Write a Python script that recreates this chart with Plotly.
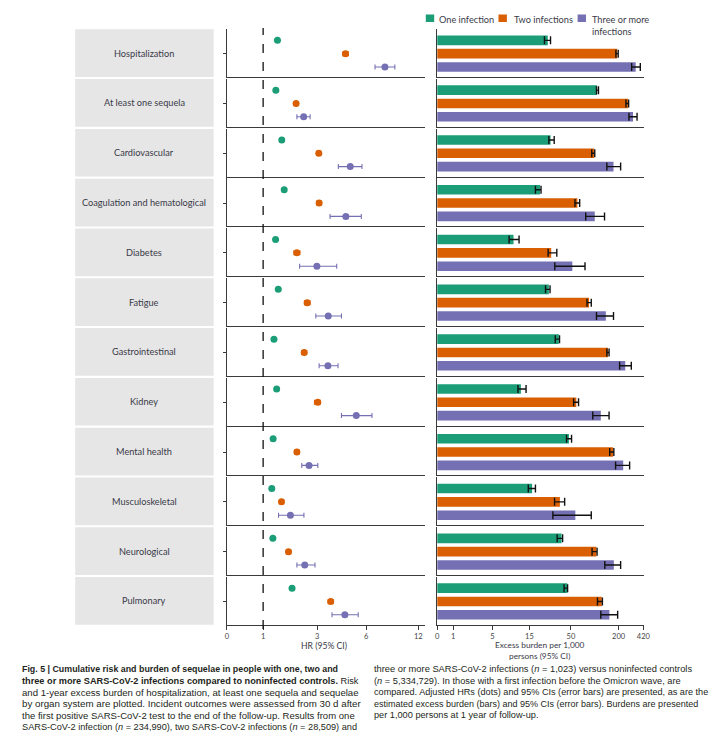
import numpy as np
import plotly.graph_objects as go

# ---------------- data ----------------
categories = ["Hospitalization", "At least one sequela", "Cardiovascular",
              "Coagulation and hematological", "Diabetes", "Fatigue",
              "Gastrointestinal", "Kidney", "Mental health", "Musculoskeletal",
              "Neurological", "Pulmonary"]
series_names = ["One infection", "Two infections", "Three or more infections"]
colors = ["#1b9e77", "#d95f02", "#7570b3"]

hr_one = [1.53, 1.47, 1.69, 1.78, 1.46, 1.56, 1.40, 1.50, 1.37, 1.32, 1.36, 2.07]
hr_one_lo = [1.49, 1.45, 1.65, 1.73, 1.42, 1.51, 1.37, 1.46, 1.34, 1.29, 1.33, 2.02]
hr_one_hi = [1.57, 1.50, 1.73, 1.83, 1.50, 1.61, 1.43, 1.54, 1.40, 1.35, 1.39, 2.12]
hr_two = [4.74, 2.22, 3.10, 3.12, 2.25, 2.63, 2.52, 3.04, 2.25, 1.68, 1.94, 3.83]
hr_two_lo = [4.58, 2.16, 2.98, 2.98, 2.14, 2.53, 2.43, 2.90, 2.17, 1.60, 1.86, 3.68]
hr_two_hi = [4.91, 2.28, 3.22, 3.27, 2.36, 2.74, 2.61, 3.18, 2.33, 1.76, 2.02, 3.99]
hr_three = [8.17, 2.50, 5.03, 4.76, 2.99, 3.68, 3.66, 5.40, 2.70, 2.01, 2.54, 4.70]
hr_three_lo = [7.03, 2.25, 4.30, 3.79, 2.35, 2.95, 3.12, 4.49, 2.43, 1.57, 2.25, 3.91]
hr_three_hi = [9.31, 2.74, 5.75, 5.71, 4.20, 4.49, 4.28, 6.68, 3.04, 2.51, 2.92, 5.52]

burden_one = [30.5, 132.3, 32.8, 24.0, 10.7, 31.4, 39.8, 12.7, 48.3, 17.3, 42.1, 46.9]
burden_one_lo = [27.7, 130.4, 31.4, 20.1, 9.5, 28.6, 36.8, 11.9, 46.3, 14.7, 38.4, 44.2]
burden_one_hi = [32.8, 136.7, 35.9, 24.8, 12.2, 32.4, 40.4, 14.1, 52.0, 20.1, 43.0, 47.2]
burden_two = [195.6, 283, 122.8, 70.3, 33.4, 107, 167, 67, 182.6, 40.7, 130.4, 147]
burden_two_lo = [191.5, 265, 115.5, 62.7, 30.8, 100.6, 163, 58.5, 172, 36.2, 116.5, 133.5]
burden_two_hi = [198.7, 289, 125, 77.5, 38.1, 114, 170, 74, 185, 44.7, 132.3, 149]
burden_three = [352, 328, 184, 125, 54.4, 159.8, 259, 144, 241, 63.9, 185, 171]
burden_three_lo = [316, 292, 163, 96.5, 36.4, 130.4, 209, 118.7, 190.5, 34.8, 156.6, 144]
burden_three_hi = [393, 364, 218, 155.7, 94.3, 184, 313, 170, 298, 114, 218, 197]

hr_tick_vals = [0, 1, 3, 6, 12]
hr_tick_text = ["0", "1", "3", "6", "12"]
burden_tick_vals = [0, 1, 5, 15, 50, 200, 420]
burden_tick_text = ["0", "1", "5", "15", "50", "200", "420"]

# ---------------- axis scale definitions (non-linear, piecewise) ----------------
HR_SCALE_POS = [0, 36, 89.8, 138.5, 190.5]
HR_RANGE = [0, 197.5]
BUR_SCALE_POS = [0, 16, 55, 91.7, 133, 180.4, 205]
BUR_RANGE = [0, 206]


def hr_t(v):
    return np.interp(np.asarray(v, dtype=float), hr_tick_vals, HR_SCALE_POS)


def bur_t(v):
    return np.interp(np.asarray(v, dtype=float), burden_tick_vals, BUR_SCALE_POS)


W, H = 727, 745


def px(x):
    return x / W


def py(y):
    return 1 - y / H


hr_sets = [(hr_one, hr_one_lo, hr_one_hi), (hr_two, hr_two_lo, hr_two_hi),
           (hr_three, hr_three_lo, hr_three_hi)]
bur_sets = [(burden_one, burden_one_lo, burden_one_hi),
            (burden_two, burden_two_lo, burden_two_hi),
            (burden_three, burden_three_lo, burden_three_hi)]

LINE_C = "#3a3a3a"
TXT_C = "#3a3a48"
FONT = "Lato"

fig = go.Figure()
layout = dict(width=W, height=H, margin=dict(l=0, r=0, t=0, b=0),
              paper_bgcolor="white", plot_bgcolor="white", showlegend=False,
              font=dict(family=FONT, size=8, color=TXT_C))
shapes = []
annotations = []

HR_DOM = [px(227.5), px(428)]
BUR_DOM = [px(440), px(649.5)]

n = len(categories)
for i, cat in enumerate(categories):
    top = 29 + 49.8 * i
    bot = top + 48
    last = i == n - 1
    a_hr = 2 * i + 1
    a_bu = 2 * i + 2
    for a, dom, rng, tv, tt in [(a_hr, HR_DOM, HR_RANGE, hr_tick_vals, hr_tick_text),
                                (a_bu, BUR_DOM, BUR_RANGE, burden_tick_vals, burden_tick_text)]:
        xname = "xaxis" if a == 1 else f"xaxis{a}"
        yname = "yaxis" if a == 1 else f"yaxis{a}"
        ref = "" if a == 1 else str(a)
        tpos = hr_t(tv) if a == a_hr else bur_t(tv)
        layout[xname] = dict(domain=dom, range=rng, anchor="y" + ref, showline=True,
                             linecolor=LINE_C, linewidth=1.3, showgrid=False, zeroline=False,
                             tickvals=list(tpos) if last else [], ticktext=tt if last else [],
                             ticks="outside" if last else "", ticklen=4, tickcolor=LINE_C,
                             showticklabels=last, tickfont=dict(size=7.5, color="#444"),
                             fixedrange=True)
        layout[yname] = dict(domain=[py(bot), py(top)], range=[-0.75, 2.85], anchor="x" + ref,
                             showline=True, linecolor=LINE_C, linewidth=1.3, showgrid=False,
                             zeroline=False, tickvals=[1] if a == a_hr else [],
                             ticks="outside" if a == a_hr else "", ticklen=3,
                             tickcolor=LINE_C, showticklabels=False, fixedrange=True)

    ref_hr = "" if a_hr == 1 else str(a_hr)
    ref_bu = str(a_bu)
    for g in range(3):
        v, lo, hi = hr_sets[g][0][i], hr_sets[g][1][i], hr_sets[g][2][i]
        fig.add_trace(go.Scatter(
            x=[float(hr_t(v))], y=[2 - g], mode="markers",
            marker=dict(size=7, color=colors[g]),
            error_x=dict(type="data", symmetric=False,
                         array=[float(hr_t(hi) - hr_t(v))],
                         arrayminus=[float(hr_t(v) - hr_t(lo))],
                         color=colors[g], thickness=1.1, width=2.5),
            xaxis="x" + ref_hr, yaxis="y" + ref_hr, hoverinfo="skip"))
        bv, blo, bhi = bur_sets[g][0][i], bur_sets[g][1][i], bur_sets[g][2][i]
        fig.add_trace(go.Bar(
            x=[float(bur_t(bv))], y=[2 - g], orientation="h", width=0.72,
            marker=dict(color=colors[g], line=dict(width=0)),
            error_x=dict(type="data", symmetric=False,
                         array=[float(bur_t(bhi) - bur_t(bv))],
                         arrayminus=[float(bur_t(bv) - bur_t(blo))],
                         color="#111111", thickness=1.4, width=4),
            xaxis="x" + ref_bu, yaxis="y" + ref_bu, hoverinfo="skip"))

    # category label box
    shapes.append(dict(type="rect", xref="paper", yref="paper",
                       x0=px(74), x1=px(214), y0=py(top + 48), y1=py(top + 0.3),
                       fillcolor="#e6e6e6", line=dict(width=0), layer="below"))
    annotations.append(dict(xref="paper", yref="paper", x=px(144), y=py(top + 24),
                            text=cat, showarrow=False, xanchor="center", yanchor="middle",
                            font=dict(family=FONT, size=9.2, color=TXT_C)))

# reference line at HR = 1
shapes.append(dict(type="line", xref="x", yref="paper",
                   x0=float(hr_t(1)), x1=float(hr_t(1)), y0=py(629), y1=py(28),
                   line=dict(color="#111111", width=1.3, dash="dash")))

# axis titles
annotations.append(dict(xref="paper", yref="paper", x=px(326), y=py(645.5),
                        text="HR (95% CI)", showarrow=False, xanchor="center", yanchor="middle",
                        font=dict(family=FONT, size=8.6, color=TXT_C)))
annotations.append(dict(xref="paper", yref="paper", x=px(544), y=py(650),
                        text="Excess burden per 1,000<br>persons (95% CI)", showarrow=False,
                        xanchor="center", yanchor="middle",
                        font=dict(family=FONT, size=8.3, color=TXT_C)))

# legend
leg = [(428.5, 440, "One infection"), (502, 515.5, "Two infections"),
       (582, 594.5, "Three or more<br>infections")]
for (sx, tx, txt), c in zip(leg, colors):
    shapes.append(dict(type="rect", xref="paper", yref="paper",
                       x0=px(sx), x1=px(sx + 8.5), y0=py(22), y1=py(14.5),
                       fillcolor=c, line=dict(width=0)))
    annotations.append(dict(xref="paper", yref="paper", x=px(tx), y=py(12),
                            text=txt, showarrow=False, xanchor="left", yanchor="top",
                            align="left", font=dict(family=FONT, size=9.2, color=TXT_C)))

# caption (per-line sizes emulate the justified column)
CAP = "Liberation Sans"
cap_left = [
    ("<b>Fig. 5 | Cumulative risk and burden of sequelae in people with one, two and</b>", 8.85),
    ("<b>three or more SARS-CoV-2 infections compared to noninfected controls.</b> Risk", 9.2),
    ("and 1-year excess burden of hospitalization, at least one sequela and sequelae", 9.6),
    ("by organ system are plotted. Incident outcomes were assessed from 30 d after", 9.75),
    ("the first positive SARS-CoV-2 test to the end of the follow-up. Results from one", 9.55),
    ("SARS-CoV-2 infection (<i>n</i> = 234,990), two SARS-CoV-2 infections (<i>n</i> = 28,509) and", 9.2),
]
cap_right = [
    ("three or more SARS-CoV-2 infections (<i>n</i> = 1,023) versus noninfected controls", 9.3),
    ("(<i>n</i> = 5,334,729). In those with a first infection before the Omicron wave, are", 9.25),
    ("compared. Adjusted HRs (dots) and 95% CIs (error bars) are presented, as are the", 9.15),
    ("estimated excess burden (bars) and 95% CIs (error bars). Burdens are presented", 9.0),
    ("per 1,000 persons at 1 year of follow-up.", 9.2),
]
for k, (txt, sz) in enumerate(cap_left):
    annotations.append(dict(xref="paper", yref="paper", x=px(18), y=py(669 + 11.5 * k),
                            text=txt, showarrow=False, xanchor="left", yanchor="middle",
                            font=dict(family=CAP, size=sz, color="#231f20")))
for k, (txt, sz) in enumerate(cap_right):
    annotations.append(dict(xref="paper", yref="paper", x=px(374), y=py(669 + 11.5 * k),
                            text=txt, showarrow=False, xanchor="left", yanchor="middle",
                            font=dict(family=CAP, size=sz, color="#231f20")))

layout["shapes"] = shapes
layout["annotations"] = annotations
fig.update_layout(**layout)
fig.write_html("out.html", config={"displayModeBar": False},
               post_script="document.body.style.margin='0px';document.body.style.padding='0px';"
                           "document.body.style.overflow='hidden';")
